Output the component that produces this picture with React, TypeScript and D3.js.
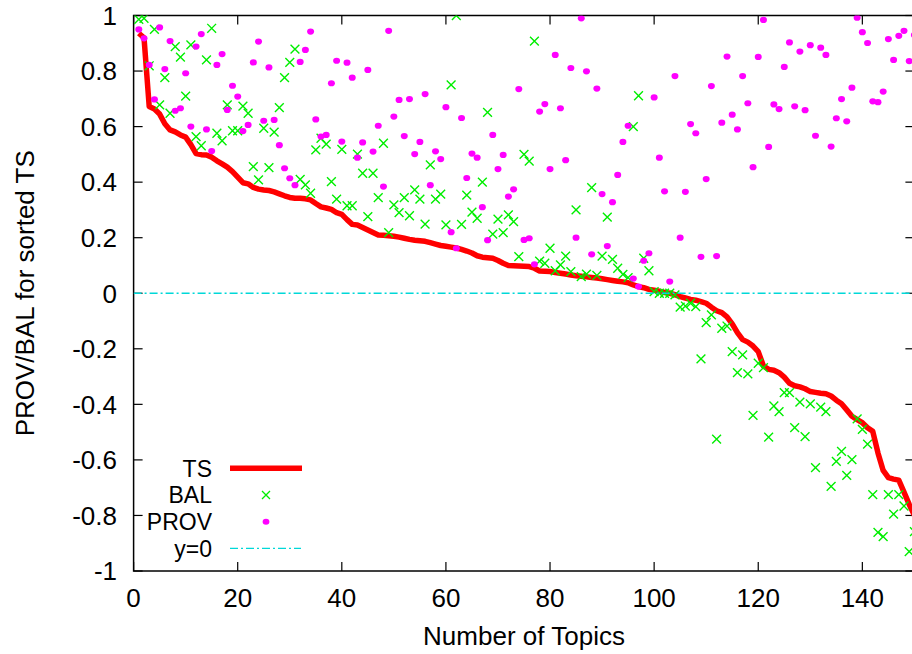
import React from "react";
import * as d3 from "d3";

// Sorted TS values, topic 1..150
const ts: number[] = [
  0.936, 0.92, 0.672, 0.663, 0.645, 0.61, 0.588, 0.581, 0.57, 0.562,
  0.535, 0.503, 0.499, 0.498, 0.49, 0.477, 0.466, 0.454, 0.438, 0.418,
  0.398, 0.394, 0.381, 0.375, 0.372, 0.37, 0.365, 0.358, 0.351, 0.345,
  0.342, 0.342, 0.34, 0.336, 0.323, 0.311, 0.307, 0.302, 0.29, 0.284,
  0.265, 0.248, 0.246, 0.237, 0.228, 0.219, 0.21, 0.209, 0.207, 0.205,
  0.202, 0.198, 0.194, 0.191, 0.189, 0.187, 0.182, 0.177, 0.172, 0.169,
  0.166, 0.163, 0.158, 0.152, 0.145, 0.135, 0.13, 0.128, 0.126, 0.118,
  0.108, 0.1, 0.099, 0.098, 0.097, 0.096, 0.09, 0.08, 0.079, 0.078,
  0.075, 0.072, 0.069, 0.066, 0.063, 0.061, 0.059, 0.057, 0.055, 0.052,
  0.049, 0.046, 0.043, 0.041, 0.038, 0.03, 0.024, 0.02, 0.014, 0.011,
  0.007, 0.003, 0.0, -0.005, -0.012, -0.017, -0.022, -0.025, -0.03, -0.036,
  -0.05, -0.063, -0.07, -0.085, -0.11, -0.142, -0.167, -0.176, -0.19, -0.21,
  -0.262, -0.274, -0.277, -0.286, -0.302, -0.324, -0.333, -0.337, -0.344, -0.354,
  -0.357, -0.36, -0.362, -0.37, -0.385, -0.398, -0.42, -0.443, -0.455, -0.466,
  -0.484, -0.497, -0.575, -0.638, -0.664, -0.669, -0.673, -0.716, -0.76, -0.8,
];

const bal: number[] = [
  0.986, 0.99, 0.819, 0.95, 0.678, 0.776, 0.648, 0.888, 0.85, 0.71,
  0.894, 0.564, 0.531, 0.84, 0.954, 0.576, 0.549, 0.678, 0.585, 0.585,
  0.674, 0.648, 0.456, 0.408, 0.594, 0.452, 0.58, 0.668, 0.776, 0.831,
  0.879, 0.41, 0.39, 0.36, 0.516, 0.558, 0.537, 0.402, 0.339, 0.518,
  0.315, 0.315, 0.501, 0.432, 0.276, 0.432, 0.344, 0.54, 0.218, 0.318,
  0.29, 0.344, 0.279, 0.372, 0.339, 0.249, 0.462, 0.339, 0.357, 0.246,
  0.75, 1.0, 0.248, 0.353, 0.292, 0.27, 0.4, 0.651, 0.213, 0.267,
  0.218, 0.282, 0.258, 0.132, 0.5, 0.476, 0.908, 0.116, 0.108, 0.162,
  0.081, 0.102, 0.134, 0.078, 0.3, 0.06, 0.069, 0.38, 0.064, 0.134,
  0.274, 0.122, 0.09, 0.068, 0.056, 0.6, 0.711, 0.126, 0.081, 0.006,
  0.0, 0.0, 0.0, -0.006, -0.05, -0.046, -0.036, -0.048, -0.236, -0.106,
  -0.078, -0.525, -0.126, -0.118, -0.21, -0.286, -0.222, -0.29, -0.44, -0.252,
  -0.268, -0.518, -0.406, -0.426, -0.358, -0.358, -0.484, -0.392, -0.516, -0.398,
  -0.628, -0.41, -0.426, -0.695, -0.605, -0.569, -0.656, -0.599, -0.452, -0.49,
  -0.543, -0.725, -0.861, -0.876, -0.725, -0.795, -0.725, -0.766, -0.93, -0.858,
];

const prov: number[] = [
  0.95, 0.918, 0.822, 0.698, 0.957, 0.807, 0.908, 0.657, 0.666, 0.792,
  0.6, 0.888, 0.933, 0.59, 0.512, 0.822, 0.861, 0.66, 0.747, 0.708,
  0.584, 0.606, 0.831, 0.906, 0.621, 0.813, 0.624, 0.533, 0.45, 0.414,
  0.389, 0.833, 0.876, 0.942, 0.626, 0.564, 0.57, 0.756, 0.837, 0.546,
  0.83, 0.776, 0.488, 0.543, 0.804, 0.51, 0.603, 0.384, 0.945, 0.636,
  0.696, 0.566, 0.699, 0.501, 0.545, 0.717, 0.389, 0.511, 0.483, 0.67,
  0.22, 0.162, 0.631, 0.415, 0.503, 0.488, 0.31, 0.191, 0.57, 0.447,
  0.498, 0.348, 0.374, 0.735, 0.192, 0.198, 0.104, 0.654, 0.681, 0.447,
  0.858, 0.666, 0.479, 0.811, 0.2, 0.99, 0.799, 0.14, 0.737, 0.357,
  0.17, 0.328, 0.426, 0.545, 0.603, 0.053, 0.024, 0.117, 0.144, 0.705,
  0.488, 0.367, 0.042, 0.782, 0.2, 0.365, 0.609, 0.576, 0.131, 0.411,
  0.746, 0.134, 0.614, 0.852, 0.643, 0.59, 0.782, 0.684, 0.454, 0.851,
  0.984, 0.527, 0.68, 0.663, 0.815, 0.903, 0.673, 0.87, 0.659, 0.893,
  0.567, 0.884, 0.858, 0.528, 0.63, 0.699, 0.619, 0.74, 0.992, 0.94,
  0.901, 0.691, 0.688, 0.726, 0.915, 0.84, 0.927, 0.945, 0.836, 0.93,
];

const xTicks: number[] = [0, 20, 40, 60, 80, 100, 120, 140];
const yTicks: number[] = [-1, -0.8, -0.6, -0.4, -0.2, 0, 0.2, 0.4, 0.6, 0.8, 1];
const yTickLabels: string[] = ["-1", "-0.8", "-0.6", "-0.4", "-0.2", "0", "0.2", "0.4", "0.6", "0.8", "1"];
const legendLabels: string[] = ["TS", "BAL", "PROV", "y=0"];

const W = 912;
const H = 654;
const FONT = "'Liberation Sans', Arial, Helvetica, sans-serif";
const FS = 26;
const LEG_FS = 23;

export default function App() {
  const x = d3.scaleLinear().domain([0, 150]).range([133.6, 914.4]);
  const y = d3.scaleLinear().domain([-1, 1]).range([571, 15.5]);
  const x0 = x(0), x1 = x(150), yTop = y(1), yBot = y(-1);
  const tickLen = 9;

  const line = d3
    .line<number>()
    .x((_, i) => x(i + 1))
    .y((d) => y(d));

  const xMark = (cx: number, cy: number, s: number) =>
    `M${cx - s},${cy - s}L${cx + s},${cy + s}M${cx - s},${cy + s}L${cx + s},${cy - s}`;

  const legY = [468.3, 495, 521.7, 548.4];
  const green = "#00ee00";
  const magenta = "#ff00ff";
  const cyan = "#00d8d8";
  const dash = "8,3,2,3";

  return (
    <svg
      width={W}
      height={H}
      style={{ position: "absolute", left: 0, top: 0, background: "#fff" }}
      fontFamily={FONT}
    >
      <rect x={0} y={0} width={W} height={H} fill="#fff" />
      <defs>
        <clipPath id="plotclip">
          <rect x={x0} y={yTop} width={x1 - x0} height={yBot - yTop} />
        </clipPath>
      </defs>

      {/* border */}
      <rect x={x0} y={yTop} width={x1 - x0} height={yBot - yTop} fill="none" stroke="#000" strokeWidth={1.5} />

      {/* x ticks */}
      {xTicks.map((t) => (
        <g key={"xt" + t}>
          <line x1={x(t)} x2={x(t)} y1={yBot} y2={yBot - tickLen} stroke="#000" strokeWidth={1.2} />
          <line x1={x(t)} x2={x(t)} y1={yTop} y2={yTop + tickLen} stroke="#000" strokeWidth={1.2} />
          <text x={x(t)} y={606.5} fontSize={FS} textAnchor="middle" fill="#000">
            {String(t)}
          </text>
        </g>
      ))}

      {/* y ticks */}
      {yTicks.map((t, i) => (
        <g key={"yt" + t}>
          <line x1={x0} x2={x0 + tickLen} y1={y(t)} y2={y(t)} stroke="#000" strokeWidth={1.2} />
          <line x1={x1} x2={x1 - tickLen} y1={y(t)} y2={y(t)} stroke="#000" strokeWidth={1.2} />
          <text x={117} y={y(t) + 9.3} fontSize={FS} textAnchor="end" fill="#000">
            {yTickLabels[i]}
          </text>
        </g>
      ))}

      {/* axis labels */}
      <text x={(x0 + x1) / 2} y={645} fontSize={FS} textAnchor="middle" fill="#000">
        Number of Topics
      </text>
      <text
        transform={`translate(34,${(yTop + yBot) / 2}) rotate(-90)`}
        fontSize={FS}
        textAnchor="middle"
        fill="#000"
      >
        PROV/BAL for sorted TS
      </text>

      <g clipPath="url(#plotclip)">
        {/* TS line */}
        <path d={line(ts) || ""} fill="none" stroke="#ff0000" strokeWidth={5.5} strokeLinejoin="round" />
        {/* BAL */}
        {bal.map((v, i) => (
          <path key={"b" + i} d={xMark(x(i + 1), y(v), 4.4)} stroke={green} strokeWidth={1.4} fill="none" />
        ))}
        {/* PROV */}
        {prov.map((v, i) => (
          <ellipse key={"p" + i} cx={x(i + 1)} cy={y(v)} rx={3.5} ry={3.1} fill={magenta} />
        ))}
        {/* y=0 */}
        <line x1={x0} x2={x1} y1={y(0)} y2={y(0)} stroke={cyan} strokeWidth={1.4} strokeDasharray={dash} />
      </g>

      {/* legend */}
      {legendLabels.map((l, i) => (
        <text key={"lg" + l} x={212} y={legY[i] + 8.2} fontSize={LEG_FS} textAnchor="end" fill="#000">
          {l}
        </text>
      ))}
      <line x1={230} x2={302} y1={legY[0]} y2={legY[0]} stroke="#ff0000" strokeWidth={5.5} />
      <path d={xMark(266, legY[1], 4)} stroke={green} strokeWidth={1.3} fill="none" />
      <ellipse cx={266} cy={legY[2]} rx={3.4} ry={3} fill={magenta} />
      <line x1={230} x2={301} y1={legY[3]} y2={legY[3]} stroke={cyan} strokeWidth={1.4} strokeDasharray={dash} />
    </svg>
  );
}
